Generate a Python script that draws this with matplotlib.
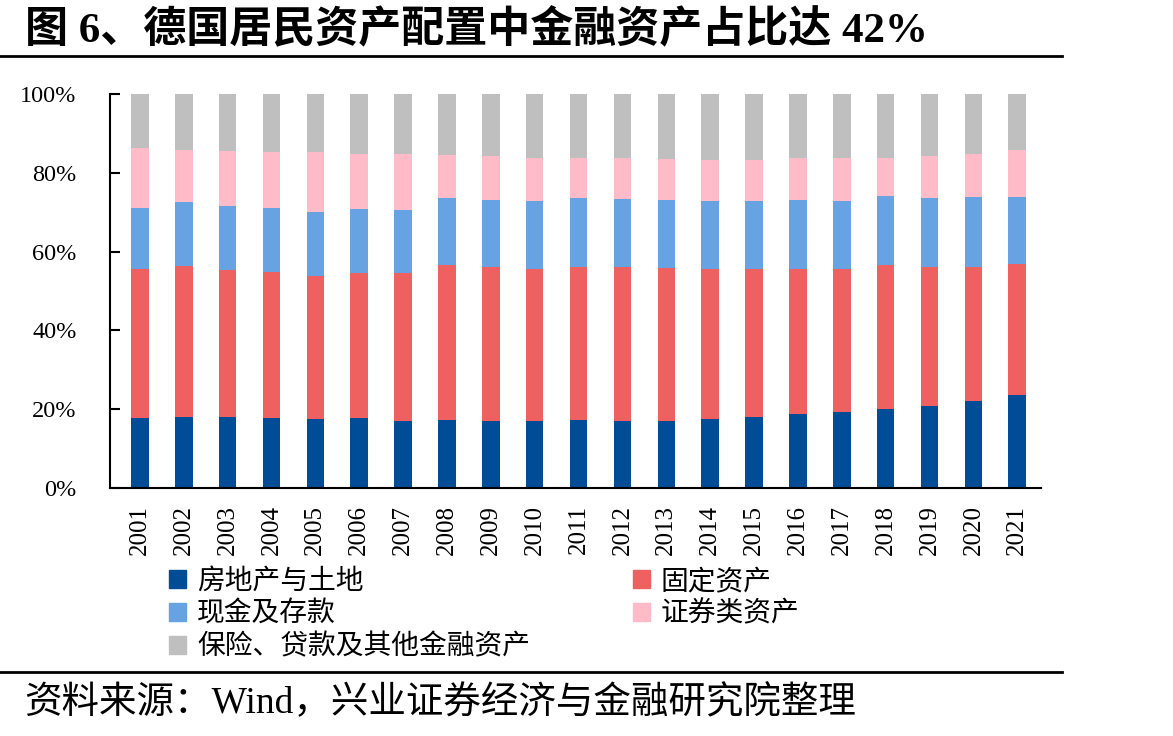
import matplotlib
matplotlib.use("Agg")
import matplotlib.pyplot as plt
import numpy as np
from matplotlib.patches import Patch
from matplotlib.lines import Line2D

years = [str(y) for y in range(2001, 2022)]

# cumulative tops (%)
top_house = [17.8, 18.0, 17.9, 17.8, 17.5, 17.8, 17.0, 17.3, 17.0, 17.0, 17.3,
             17.0, 17.0, 17.4, 18.1, 18.8, 19.3, 20.1, 20.9, 22.1, 23.7]
top_fixed = [55.6, 56.4, 55.4, 54.9, 53.9, 54.7, 54.6, 56.5, 56.1, 55.6, 56.2,
             56.0, 55.8, 55.6, 55.5, 55.5, 55.5, 56.5, 56.1, 56.0, 57.0]
top_cash = [71.1, 72.7, 71.6, 71.2, 70.1, 70.9, 70.7, 73.7, 73.2, 72.9, 73.7,
            73.4, 73.1, 72.9, 72.9, 73.1, 72.9, 74.1, 73.7, 73.8, 73.8]
top_sec = [86.3, 85.8, 85.6, 85.4, 85.3, 84.8, 84.8, 84.5, 84.2, 83.9, 83.7,
           83.7, 83.6, 83.4, 83.4, 83.7, 83.7, 83.9, 84.4, 84.8, 85.8]

house = np.array(top_house)
fixed = np.array(top_fixed) - np.array(top_house)
cash = np.array(top_cash) - np.array(top_fixed)
securities = np.array(top_sec) - np.array(top_cash)
other = 100 - np.array(top_sec)

labels = ["房地产与土地", "固定资产", "现金及存款", "证券类资产", "保险、贷款及其他金融资产"]
colors = ["#004C97", "#EF6061", "#67A2E3", "#FFBBC7", "#BFBFBF"]
series = [house, fixed, cash, securities, other]

serif = ["Liberation Serif", "Noto Sans CJK SC"]
cjk = ["Noto Sans CJK SC", "Liberation Serif"]

fig = plt.figure(figsize=(11.73, 7.36), dpi=100)
ax = fig.add_axes([0.0938, 0.337, 0.794, 0.535])

x = np.arange(len(years))
bottom = np.zeros(len(years))
for vals, c in zip(series, colors):
    ax.bar(x, vals, 0.4, bottom=bottom, color=c, edgecolor="none")
    bottom += vals

ax.set_xlim(-0.68, 20.55)
ax.set_ylim(0, 100)
ax.set_yticks(range(0, 101, 20))
ax.set_yticklabels([f"{v}%" for v in range(0, 101, 20)], family=serif, fontsize=17.5)
ax.set_xticks(x)
ax.set_xticklabels(years, rotation=90, family=serif, fontsize=18)
ax.tick_params(axis="y", direction="in", length=7, width=1.5, pad=24)
ax.tick_params(axis="x", length=0, pad=12)
for s in ["top", "right"]:
    ax.spines[s].set_visible(False)
for s in ["left", "bottom"]:
    ax.spines[s].set_linewidth(1.5)

# title and source lines
fig.text(0.021, 0.958, "图 6、德国居民资产配置中金融资产占比达 42%", family=serif,
         fontsize=31, fontweight="bold", va="center")
fig.add_artist(Line2D([0, 0.905], [0.924, 0.924], color="black", lw=2))
fig.add_artist(Line2D([0, 0.905], [0.087, 0.087], color="black", lw=2))
fig.text(0.021, 0.045, "资料来源：Wind，兴业证券经济与金融研究院整理", family=serif,
         fontsize=27, va="center")

# legend, filled row by row
handles = [Patch(color=c) for c in colors]
order = [0, 2, 4, 1, 3]
leg = fig.legend([handles[i] for i in order], [labels[i] for i in order],
                 ncol=2, loc="upper left", bbox_to_anchor=(0.123, 0.265),
                 frameon=False, prop={"family": cjk, "size": 20},
                 handlelength=0.6, handleheight=0.6, handletextpad=0.4,
                 columnspacing=3.7, labelspacing=0.1)

fig.savefig("out.png", dpi=100)
